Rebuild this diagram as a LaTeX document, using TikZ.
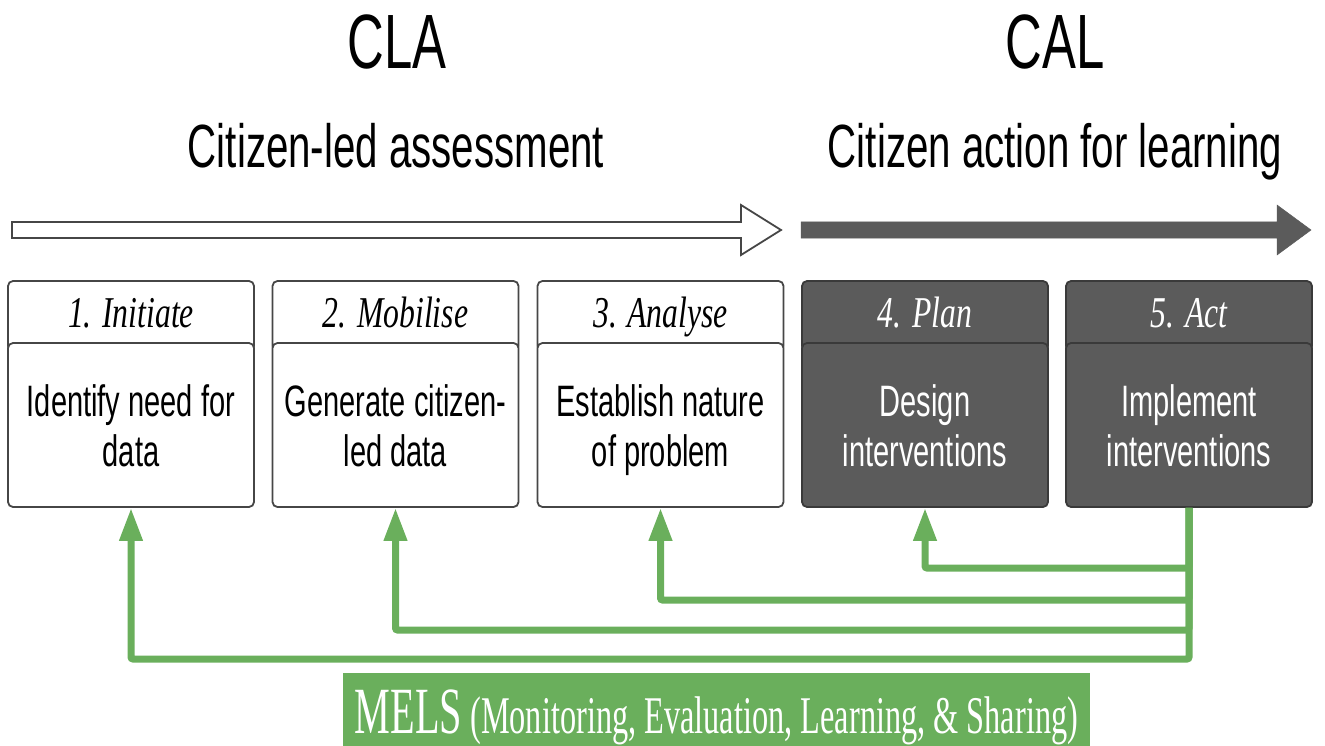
\documentclass[tikz,border=0pt]{standalone}
\usepackage{fontspec}
\setmainfont{Liberation Sans}[FakeStretch=0.66]
\newfontfamily\hdrfont{Liberation Serif}[FakeStretch=0.72]
\newfontfamily\melsfont{Liberation Serif}[FakeStretch=0.61]
\usetikzlibrary{arrows.meta}

\definecolor{boxline}{RGB}{70,70,70}
\definecolor{darkfill}{RGB}{91,91,91}
\definecolor{darkline}{RGB}{58,58,58}
\definecolor{melsgreen}{RGB}{106,175,92}

\tikzset{
  stage/.style={draw=boxline, fill=white, line width=1.8pt, rounded corners=5pt,
    minimum width=246pt, inner sep=0pt},
  hdr/.style={stage, minimum height=70pt, text height=30pt, text depth=8pt,
    font=\hdrfont\itshape\fontsize{44}{50}\selectfont},
  body/.style={stage, minimum height=164pt, align=center, text height=82pt, text depth=0pt,
    font=\fontsize{44}{50}\selectfont},
  darkbox/.style={fill=darkfill, draw=darkline, text=white},
  melsline/.style={draw=melsgreen, line width=7pt, rounded corners=2pt},
  melsarrow/.style={melsline, -{Triangle[length=33pt,width=22pt]}},
}

\begin{document}
\begin{tikzpicture}[x=1pt, y=-1pt]
\useasboundingbox (0,0) rectangle (1325,746);

\def\xa{131};
\def\xb{395.5};
\def\xc{660.5};
\def\xd{925};
\def\xe{1189};

\def\yhdr{316};
\def\ybody{425};

% headings
\node[anchor=base, font=\fontsize{77}{80}\selectfont] (cla) at (397, 69) {CLA};
\node[anchor=base, font=\fontsize{77}{80}\selectfont] (cal) at (1055, 69) {CAL};
\node[anchor=base, font=\fontsize{61}{66}\selectfont] (clatxt) at (396, 168) {Citizen-led assessment};
\node[anchor=base, font=\fontsize{61}{66}\selectfont] (caltxt) at (1055, 168) {Citizen action for learning};

% phase arrows
\filldraw[fill=white, draw=boxline, line width=1.8pt]
  (12,222) -- (741,222) -- (741,205) -- (781,230) -- (741,255) -- (741,238) -- (12,238) -- cycle;
\filldraw[fill=darkfill, draw=darkfill, line width=0.5pt]
  (801,222) -- (1277,222) -- (1277,205) -- (1311,230) -- (1277,255) -- (1277,238) -- (801,238) -- cycle;

% stages
\node[hdr] (hdr1) at (\xa, \yhdr) {1. Initiate};
\node[body] (body1) at (\xa, \ybody) {Identify need for\\data};
\node[hdr] (hdr2) at (\xb, \yhdr) {2. Mobilise};
\node[body] (body2) at (\xb, \ybody) {Generate citizen-\\led data};
\node[hdr] (hdr3) at (\xc, \yhdr) {3. Analyse};
\node[body] (body3) at (\xc, \ybody) {Establish nature\\of problem};
\node[hdr, darkbox] (hdr4) at (\xd, \yhdr) {4. Plan};
\node[body, darkbox] (body4) at (\xd, \ybody) {Design\\interventions};
\node[hdr, darkbox] (hdr5) at (\xe, \yhdr) {5. Act};
\node[body, darkbox] (body5) at (\xe, \ybody) {Implement\\interventions};

% feedback loops
\coordinate (lvl4) at (0, 568);
\coordinate (lvl3) at (0, 600);
\coordinate (lvl2) at (0, 630);
\coordinate (lvl1) at (0, 659);
\foreach \k in {4,3,2,1}
  \draw[melsarrow] (body5.south) -- (body5.south |- lvl\k) -| (body\k.south);

\node[fill=melsgreen, text=white, inner sep=0pt, minimum width=747pt, minimum height=73pt,
  text height=50pt, text depth=3pt, font=\melsfont\fontsize{53}{60}\selectfont]
  (mels) at (716.5, 709.5) {{\fontsize{66}{70}\selectfont MELS} (Monitoring, Evaluation, Learning, \& Sharing)};

\end{tikzpicture}
\end{document}
